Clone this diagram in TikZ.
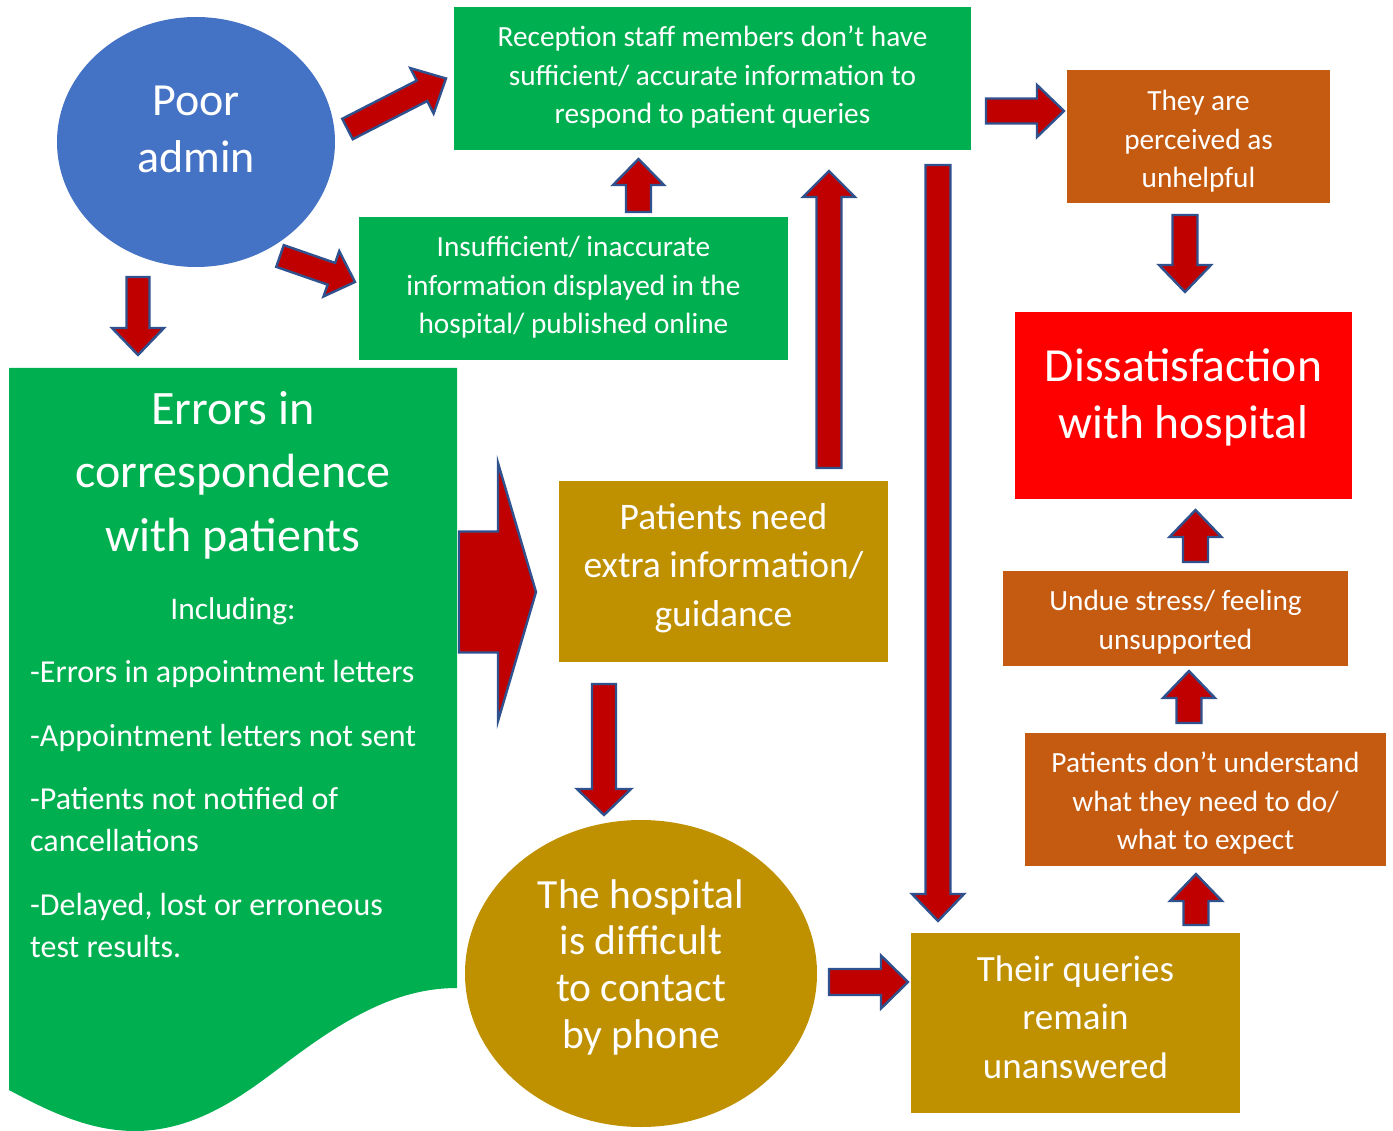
\documentclass[tikz,border=0pt]{standalone}
\usepackage{fontspec}
\setmainfont{Carlito}
\usetikzlibrary{calc,shapes.geometric}
\definecolor{cgreen}{HTML}{00B050}
\definecolor{cblue}{HTML}{4472C4}
\definecolor{corange}{HTML}{C55A11}
\definecolor{cgold}{HTML}{BF9000}
\definecolor{cred}{HTML}{FF0000}
\definecolor{cdark}{HTML}{C00000}
\definecolor{cedge}{HTML}{2F528F}
\newcommand{\blockarrow}[5]{%
  \coordinate (#1-h) at ($(#2)!#5!(#1)$);
  \draw[barrow] ($(#1)!#3!90:(#2)$)
    -- ($(#1-h)!#3!90:(#2)$)
    -- ($(#1-h)!#4!90:(#2)$)
    -- (#2)
    -- ($(#1-h)!#4!-90:(#2)$)
    -- ($(#1-h)!#3!-90:(#2)$)
    -- ($(#1)!#3!-90:(#2)$) -- cycle;}
\newcommand{\fl}{\rule{0pt}{1em}}
\begin{document}
\begin{tikzpicture}[x=1pt,y=-1pt,
  barrow/.style={fill=cdark,draw=cedge,line width=2.4pt,line join=miter},
  box/.style={rectangle,inner sep=0pt,draw=none},
  txt/.style={text=white,inner sep=0pt,align=center,anchor=north},
  fs27/.style={font=\fontsize{29.3}{38.5}\selectfont},
  fs36/.style={font=\fontsize{37.5}{48.5}\selectfont}]
\useasboundingbox (0,0) rectangle (1393,1131);

% shapes
\node[box,ellipse,fill=cblue,minimum width=278pt,minimum height=250pt] (admin) at (196,142) {};
\node[box,fill=cgreen,minimum width=517pt,minimum height=143pt] (recep) at (712.5,78.5) {};
\node[box,fill=cgreen,minimum width=429pt,minimum height=143pt] (insuf) at (573.5,288.5) {};
\node[box,fill=corange,minimum width=263pt,minimum height=133pt] (unhelp) at (1198.5,136.5) {};
\node[box,fill=cred,minimum width=337pt,minimum height=187pt] (dissat) at (1183.5,405.5) {};
\node[box,fill=corange,minimum width=345pt,minimum height=95pt] (undue) at (1175.5,618.5) {};
\node[box,fill=corange,minimum width=361pt,minimum height=133pt] (underst) at (1205.5,799.5) {};
\node[box,fill=cgold,minimum width=329pt,minimum height=180pt] (queries) at (1075.5,1023) {};
\node[box,fill=cgold,minimum width=329pt,minimum height=181pt] (need) at (723.5,571.5) {};
\node[box,ellipse,fill=cgold,minimum width=352pt,minimum height=307pt] (phone) at (641,973.5) {};
\fill[cgreen] (9,368) -- (457,368) -- (457,988)
  .. controls (400,988) and (350,1015) .. (290,1060)
  .. controls (250,1090) and (200,1131) .. (135,1131)
  .. controls (90,1131) and (50,1112) .. (9,1090) -- cycle;
\coordinate (errors) at (233,750);

% texts
\node[txt,font=\fontsize{46}{57}\selectfont] (t-admin) at (196,69) {\fl Poor\\admin};
\node[txt,fs27] (t-recep) at (712.5,17.2) {\fl Reception staff members don’t have\\sufficient/ accurate information to\\respond to patient queries};
\node[txt,fs27] (t-insuf) at (573.5,227.2) {\fl Insufficient/ inaccurate\\information displayed in the\\hospital/ published online};
\node[txt,fs27] (t-unhelp) at (1198.5,81.2) {\fl They are\\perceived as\\unhelpful};
\node[txt,font=\fontsize{47.5}{57}\selectfont] (t-dissat) at (1183.5,333.5) {\fl Dissatisfaction\\with hospital};
\node[txt,fs27] (t-undue) at (1175.5,581.2) {\fl Undue stress/ feeling\\unsupported};
\node[txt,fs27] (t-underst) at (1205.5,743.2) {\fl Patients don’t understand\\what they need to do/\\what to expect};
\node[txt,font=\fontsize{37}{48.5}\selectfont] (t-queries) at (1075.5,944) {\fl Their queries\\remain\\unanswered};
\node[txt,fs36] (t-need) at (723.5,491.5) {\fl Patients need\\extra information/\\guidance};
\node[txt,font=\fontsize{41.5}{46.7}\selectfont] (t-phone) at (641,866.5) {\fl The hospital\\is difficult\\to contact\\by phone};
\node[txt,font=\fontsize{48}{63.5}\selectfont] (t-errors) at (233,376) {\fl Errors in\\correspondence\\with patients};
\node[txt,font=\fontsize{31.5}{40}\selectfont] (t-incl) at (233,588) {\fl Including:};
\node[txt,font=\fontsize{32}{42}\selectfont,align=left,anchor=north west] (t-items) at (30,650.5)
  {\fl -Errors in appointment letters\\[21.5pt]-Appointment letters not sent\\[21.5pt]-Patients not notified of\\cancellations\\[21.5pt]-Delayed, lost or erroneous\\test results.};

% arrow end points
\coordinate (a1) at (347.5,129);  \coordinate (b1) at (446,78.5);
\coordinate (a2) at (280,256);    \coordinate (b2) at (355,282);
\coordinate (a3) at (138,277);    \coordinate (b3) at (138,355);
\coordinate (a4) at (638.5,212);  \coordinate (b4) at (638.5,159);
\coordinate (a5) at (829,468);    \coordinate (b5) at (829,171);
\coordinate (a6) at (459,592);    \coordinate (b6) at (536,592);
\coordinate (a7) at (604,684);    \coordinate (b7) at (604,815);
\coordinate (a8) at (829,982);    \coordinate (b8) at (908,982);
\coordinate (a9) at (938,165);    \coordinate (b9) at (938,921);
\coordinate (a10) at (986,111);   \coordinate (b10) at (1064,111);
\coordinate (a11) at (1185,215);  \coordinate (b11) at (1185,292);
\coordinate (a12) at (1195.5,562);\coordinate (b12) at (1195.5,510);
\coordinate (a13) at (1189,723);  \coordinate (b13) at (1189,671);
\coordinate (a14) at (1196,925);  \coordinate (b14) at (1196,874);

\blockarrow{a1}{b1}{11.5pt}{25.5pt}{27pt}
\blockarrow{a2}{b2}{11.5pt}{24pt}{25pt}
\blockarrow{a3}{b3}{11.5pt}{26pt}{27pt}
\blockarrow{a4}{b4}{12.5pt}{25.5pt}{26pt}
\blockarrow{a5}{b5}{12.5pt}{26pt}{26pt}
\blockarrow{a6}{b6}{60.5pt}{129pt}{38pt}
\blockarrow{a7}{b7}{12pt}{27pt}{26pt}
\blockarrow{a8}{b8}{13pt}{26.5pt}{27pt}
\blockarrow{a9}{b9}{12.5pt}{26pt}{27pt}
\blockarrow{a10}{b10}{12.5pt}{26pt}{27pt}
\blockarrow{a11}{b11}{12.5pt}{26pt}{27pt}
\blockarrow{a12}{b12}{12.5pt}{26pt}{27pt}
\blockarrow{a13}{b13}{12.5pt}{26pt}{27pt}
\blockarrow{a14}{b14}{12.5pt}{26pt}{27pt}
\end{tikzpicture}
\end{document}
